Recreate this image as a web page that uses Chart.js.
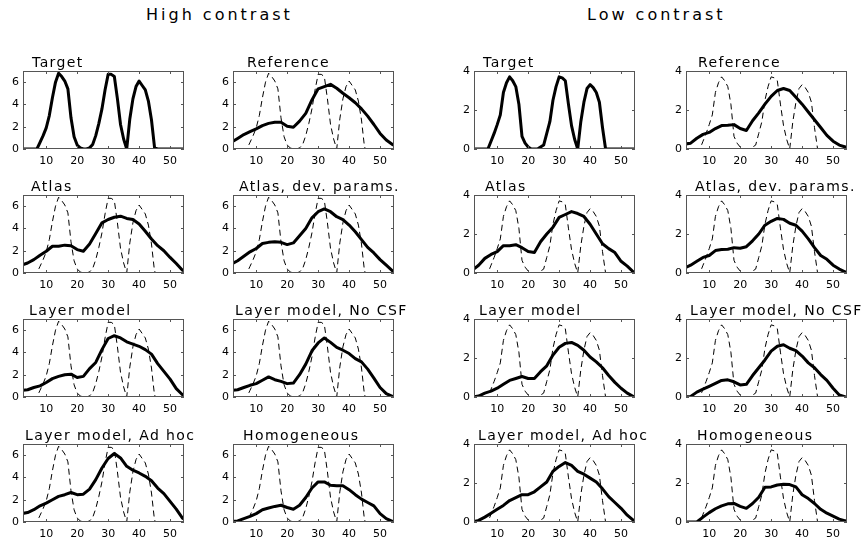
<!DOCTYPE html>
<html>
<head>
<meta charset="utf-8">
<script src="https://cdn.jsdelivr.net/npm/chart.js@4.4.1/dist/chart.umd.min.js"></script>
<style>
  body { margin: 0; background: #fff; width: 861px; height: 545px; position: relative; overflow: hidden; font-family: "DejaVu Sans", sans-serif; color: #000; }
  .hd { position: absolute; font-size: 16px; line-height: 16px; letter-spacing: 3px; white-space: nowrap; }
  .tt { position: absolute; font-size: 14px; line-height: 14px; letter-spacing: 1.4px; white-space: nowrap; }
  canvas { position: absolute; }
</style>
</head>
<body>
<div class="hd" style="left:146px; top:7px;">High contrast</div>
<div class="hd" style="left:587px; top:7px;">Low contrast</div>
<script>
// x positions of the target profile and of the estimated profiles
const targetX = [2,3,4,5,6,7,8,9,10,11,12,13,14,15,16,17,18,19,20,21,22,23,24,25,26,27,28,29,
  30,31,32,33,34,35,36,37,38,39,40,41,42,43,44,45,46,47,48,49,50,51,52,53,54,55];
const gridX = [2,4,6,8,10,12,14,16,18,20,22,24,26,28,30,32,34,36,38,40,42,44,46,48,50,52,54,56];

const xTicks = [10, 20, 30, 40, 50];
const hcYTicks = [0, 2, 4, 6];
const lcYTicks = [0, 2, 4];

// high contrast
const hcTarget = [0,0,0,0,0,0, 0.6,1.2,1.9,3.0,4.6,6.0,6.8,6.5,6.1,5.4,
  2.8,1.1,0.35,0.1,0,0,0.1,0.4,1.2,2.3, 3.6,5.3,6.7,6.7,6.5,4.5,2.2,0.9,0,2.7,
  4.5,5.6,6.1,5.7,5.3,4.3,2.6,0.1,0,0, 0,0,0,0,0,0,0,0];
const hcReference = [0.6,0.95,1.3,1.55,1.8,2.1,2.3,2.4,2.4,2.05,1.95,2.5,3.2,4.4,5.4,5.6,5.8,5.45,5.0,4.6,4.15,3.6,2.95,2.2,1.4,0.8,0.4,0.2];
const hcAtlas = [0.7,0.9,1.2,1.6,1.95,2.4,2.4,2.5,2.45,2.1,1.95,2.6,3.55,4.5,4.8,5.0,5.1,4.9,4.8,4.4,3.75,3.05,2.45,2.0,1.4,0.85,0.25,0];
const hcAtlasDev = [0.8,1.1,1.5,1.9,2.2,2.65,2.75,2.8,2.75,2.55,2.7,3.35,4.0,4.95,5.5,5.75,5.5,5.05,4.8,4.3,3.7,3.0,2.3,1.8,1.2,0.7,0.2,0.05];
const hcLayer = [0.6,0.65,0.85,1.0,1.3,1.65,1.85,2.0,2.05,1.75,1.85,2.55,3.1,4.25,5.25,5.5,5.3,4.95,4.75,4.55,4.25,3.85,3.0,2.3,1.6,0.75,0.2,0];
const hcLayerNoCsf = [0.6,0.65,0.85,1.05,1.2,1.5,1.8,1.55,1.4,1.2,1.25,2.0,2.95,4.15,4.85,5.3,4.9,4.45,4.2,3.9,3.45,3.15,2.5,1.7,0.85,0.3,0.05,0];
const hcLayerAdHoc = [0.75,0.85,1.1,1.45,1.7,2.0,2.3,2.45,2.65,2.45,2.5,2.95,3.8,4.85,5.7,6.15,5.75,5.0,4.65,4.4,4.1,3.7,3.05,2.55,1.85,1.15,0.35,0.05];
const hcHomogeneous = [0.05,0.1,0.3,0.5,0.75,1.1,1.25,1.4,1.5,1.3,1.15,1.5,2.2,3.05,3.6,3.6,3.3,3.25,3.25,2.9,2.45,2.05,1.75,1.45,0.75,0.3,0.05,0];

// low contrast
const lcTarget = [0,0,0,0,0,0, 0.4,0.8,1.25,1.75,2.9,3.4,3.7,3.5,3.2,2.3,
  0.65,0.3,0.1,0,0,0,0.1,0.2,0.8,1.4, 2.5,3.2,3.7,3.65,3.5,2.3,1.2,0.5,0,1.4,
  2.4,3.1,3.3,3.15,2.9,2.4,1.1,0,0,0, 0,0,0,0,0,0,0,0];
const lcReference = [0.25,0.3,0.55,0.75,0.85,1.05,1.2,1.22,1.25,1.05,0.95,1.45,1.85,2.3,2.7,3.0,3.1,3.0,2.65,2.3,1.9,1.5,1.1,0.7,0.4,0.2,0.1,0.1];
const lcAtlas = [0.15,0.4,0.75,0.95,1.1,1.4,1.4,1.45,1.3,1.1,1.05,1.6,2.0,2.35,2.85,3.0,3.15,3.05,2.9,2.5,2.0,1.5,1.25,1.05,0.6,0.35,0.05,0];
const lcAtlasDev = [0.25,0.4,0.6,0.8,0.9,1.15,1.2,1.22,1.3,1.27,1.35,1.65,2.0,2.45,2.65,2.8,2.75,2.55,2.45,2.15,1.75,1.3,0.9,0.7,0.4,0.2,0.05,0];
const lcLayer = [0,0.05,0.2,0.3,0.45,0.65,0.85,0.95,1.05,0.95,0.95,1.3,1.6,2.15,2.55,2.75,2.8,2.65,2.4,2.05,1.8,1.5,1.1,0.75,0.45,0.2,0.02,0];
const lcLayerNoCsf = [0,0.03,0.25,0.4,0.55,0.7,0.85,0.88,0.78,0.62,0.65,1.1,1.5,1.9,2.35,2.6,2.68,2.5,2.38,2.1,1.75,1.5,1.15,0.85,0.45,0.1,0,0];
const lcLayerAdHoc = [0,0.08,0.25,0.45,0.65,0.85,1.1,1.25,1.4,1.4,1.55,1.8,2.05,2.6,2.85,3.05,2.9,2.6,2.45,2.25,2.05,1.7,1.3,1.0,0.7,0.35,0.08,0];
const lcHomogeneous = [0,0,0,0.25,0.48,0.68,0.83,0.93,0.95,0.8,0.7,0.95,1.27,1.78,1.8,1.9,1.93,1.92,1.8,1.4,1.2,0.95,0.65,0.45,0.3,0.15,0.06,0.05];

// layout of the 4x4 grid of axes (chart area in page pixels)
const colLeft = [23, 233, 474, 686];
const rowTop = [71, 195, 319, 444];
const W = 161, H = 78;
const PADL = 22, PADT = 14, PADB = 20, PADR = 8;

const panels = [
  { title: "Target", col: 0, row: 0, tx: 32, line: hcTarget, lineX: targetX, target: null, hc: true },
  { title: "Reference", col: 1, row: 0, tx: 247, line: hcReference, target: hcTarget, hc: true },
  { title: "Atlas", col: 0, row: 1, tx: 31, line: hcAtlas, target: hcTarget, hc: true },
  { title: "Atlas, dev. params.", col: 1, row: 1, tx: 239, line: hcAtlasDev, target: hcTarget, hc: true },
  { title: "Layer model", col: 0, row: 2, tx: 29, line: hcLayer, target: hcTarget, hc: true },
  { title: "Layer model, No CSF", col: 1, row: 2, tx: 235, line: hcLayerNoCsf, target: hcTarget, hc: true },
  { title: "Layer model, Ad hoc", col: 0, row: 3, tx: 25, line: hcLayerAdHoc, target: hcTarget, hc: true },
  { title: "Homogeneous", col: 1, row: 3, tx: 243, line: hcHomogeneous, target: hcTarget, hc: true },
  { title: "Target", col: 2, row: 0, tx: 483, line: lcTarget, lineX: targetX, target: null, hc: false },
  { title: "Reference", col: 3, row: 0, tx: 698, line: lcReference, target: lcTarget, hc: false },
  { title: "Atlas", col: 2, row: 1, tx: 485, line: lcAtlas, target: lcTarget, hc: false },
  { title: "Atlas, dev. params.", col: 3, row: 1, tx: 695, line: lcAtlasDev, target: lcTarget, hc: false },
  { title: "Layer model", col: 2, row: 2, tx: 479, line: lcLayer, target: lcTarget, hc: false },
  { title: "Layer model, No CSF", col: 3, row: 2, tx: 690, line: lcLayerNoCsf, target: lcTarget, hc: false },
  { title: "Layer model, Ad hoc", col: 2, row: 3, tx: 478, line: lcLayerAdHoc, target: lcTarget, hc: false },
  { title: "Homogeneous", col: 3, row: 3, tx: 697, line: lcHomogeneous, target: lcTarget, hc: false },
];

const toPoints = (xs, ys) => xs.map((x, i) => ({ x, y: ys[i] }));

// axes box with small inward ticks, like the original figure
const axesBox = {
  id: "axesBox",
  afterDraw(chart) {
    const ctx = chart.ctx, a = chart.chartArea;
    const xs = chart.scales.x, ys = chart.scales.y;
    ctx.save();
    ctx.strokeStyle = "#555";
    ctx.lineWidth = 1;
    ctx.strokeRect(a.left + 0.5, a.top + 0.5, a.right - a.left - 1, a.bottom - a.top - 1);
    ctx.beginPath();
    xs.ticks.forEach((t) => {
      const px = Math.round(xs.getPixelForValue(t.value)) + 0.5;
      ctx.moveTo(px, a.bottom); ctx.lineTo(px, a.bottom - 3);
      ctx.moveTo(px, a.top); ctx.lineTo(px, a.top + 3);
    });
    ys.ticks.forEach((t) => {
      const py = Math.round(ys.getPixelForValue(t.value)) + 0.5;
      ctx.moveTo(a.left, py); ctx.lineTo(a.left + 3, py);
      ctx.moveTo(a.right, py); ctx.lineTo(a.right - 3, py);
    });
    ctx.stroke();
    ctx.restore();
  },
};

const tickFont = { family: "DejaVu Sans", size: 11 };

panels.forEach((p) => {
  const canvas = document.createElement("canvas");
  const cw = PADL + W + PADR, ch = PADT + H + PADB;
  canvas.width = cw; canvas.height = ch;
  canvas.style.width = cw + "px"; canvas.style.height = ch + "px";
  canvas.style.left = (colLeft[p.col] - PADL) + "px";
  canvas.style.top = (rowTop[p.row] - PADT) + "px";
  document.body.appendChild(canvas);

  const title = document.createElement("div");
  title.className = "tt";
  title.textContent = p.title;
  title.style.left = p.tx + "px";
  title.style.top = (rowTop[p.row] - 16) + "px";
  document.body.appendChild(title);

  const datasets = [{
    data: toPoints(p.lineX || gridX, p.line),
    borderColor: "#000", borderWidth: 3, pointRadius: 0, tension: 0,
    borderJoinStyle: "round",
  }];
  if (p.target) {
    datasets.push({
      data: toPoints(targetX, p.target),
      borderColor: "#000", borderWidth: 1, borderDash: [6, 4], pointRadius: 0, tension: 0,
    });
  }

  const yTicks = p.hc ? hcYTicks : lcYTicks;
  new Chart(canvas, {
    type: "line",
    data: { datasets },
    options: {
      responsive: false,
      animation: false,
      events: [],
      layout: { padding: { top: PADT, right: PADR, left: 0, bottom: 0 } },
      plugins: { legend: { display: false }, tooltip: { enabled: false } },
      scales: {
        x: {
          type: "linear", min: 2.5, max: 54.5,
          grid: { display: false, drawTicks: false, tickLength: 0 }, border: { display: false },
          afterBuildTicks: (s) => { s.ticks = xTicks.map((v) => ({ value: v })); },
          afterFit: (s) => { s.height = PADB; },
          ticks: { color: "#000", font: tickFont, padding: 6, maxRotation: 0, autoSkip: false },
        },
        y: {
          type: "linear", min: 0, max: p.hc ? 7 : 4,
          grid: { display: false, drawTicks: false, tickLength: 0 }, border: { display: false },
          afterBuildTicks: (s) => { s.ticks = yTicks.map((v) => ({ value: v })); },
          afterFit: (s) => { s.width = PADL; },
          ticks: { color: "#000", font: tickFont, padding: 4 },
        },
      },
    },
    plugins: [axesBox],
  });
});
</script>
</body>
</html>
